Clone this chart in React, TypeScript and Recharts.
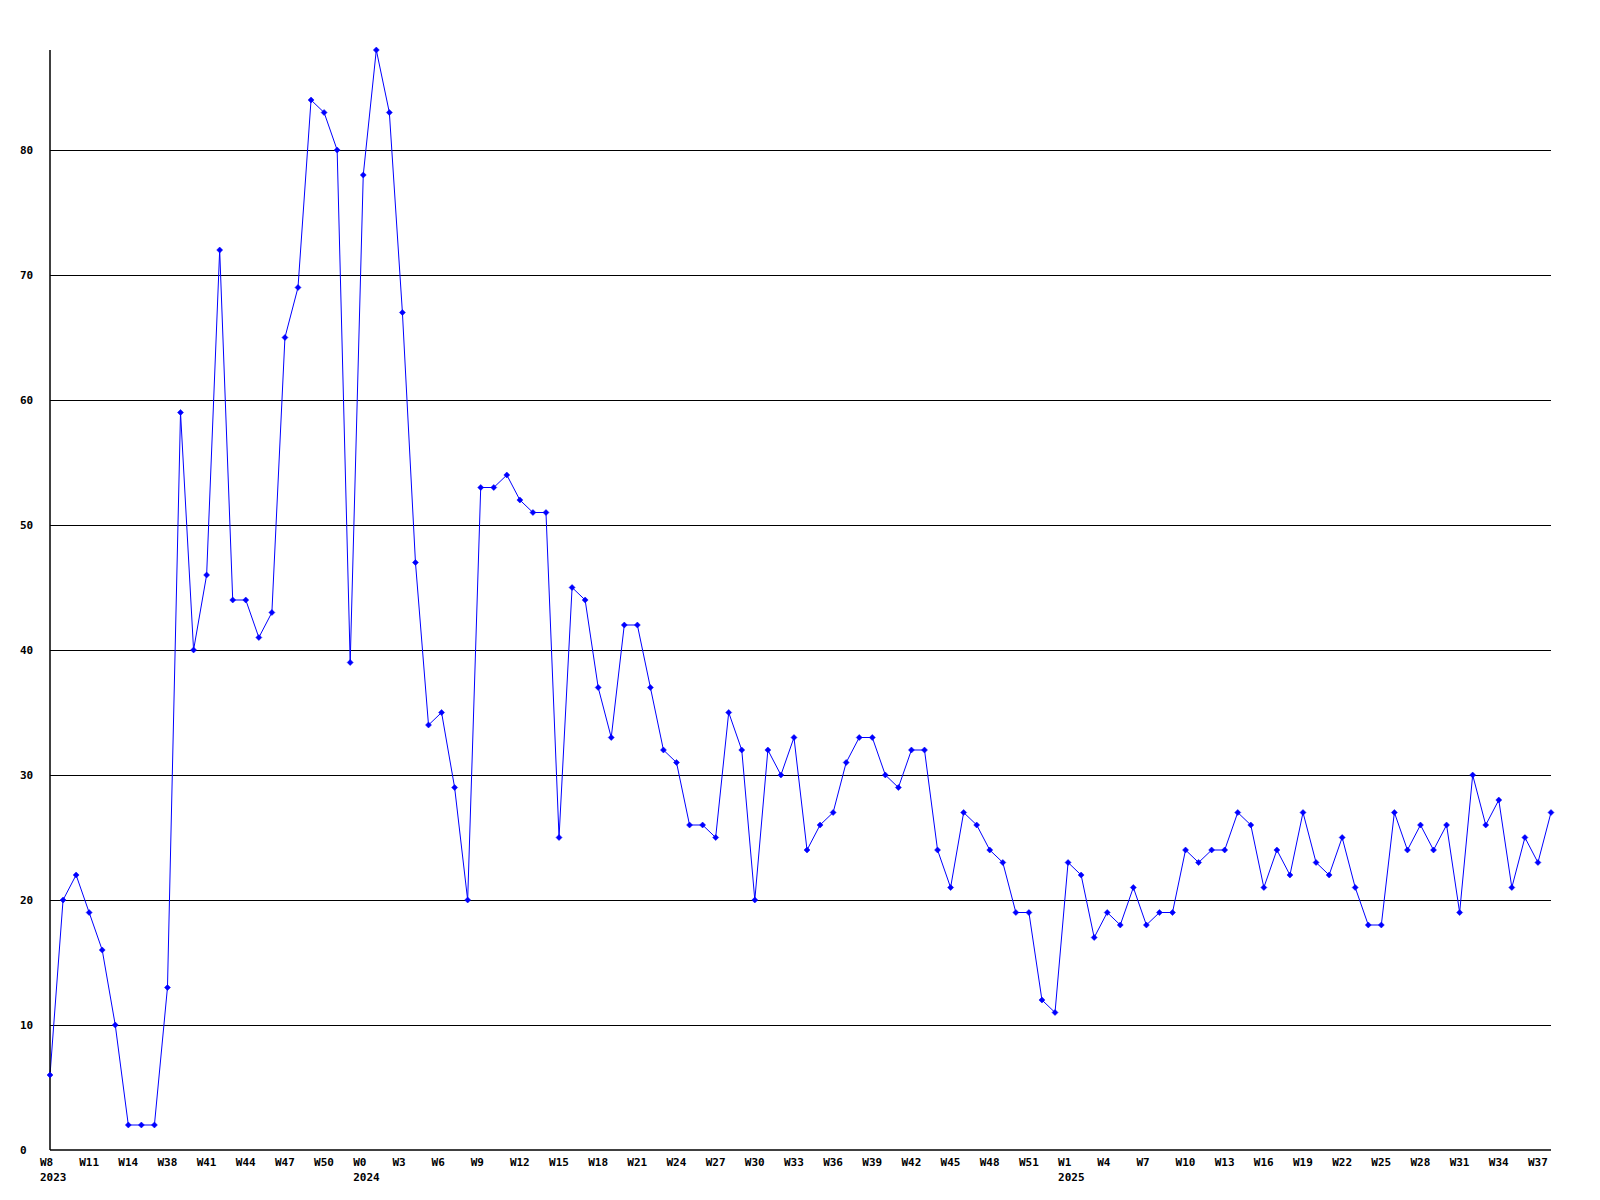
import React from 'react';
import { LineChart, Line, XAxis, YAxis, ReferenceLine } from 'recharts';

// week labels, in order, per year
const weeks2023 = ['W8', 'W9', 'W10', 'W11', 'W12', 'W13', 'W14', 'W15', 'W16',
  'W38', 'W39', 'W40', 'W41', 'W42', 'W43', 'W44', 'W45', 'W46', 'W47', 'W48', 'W49', 'W50', 'W51', 'W52'];
const weeks2024 = ['W0', 'W1', 'W2', 'W3', 'W4', 'W5', 'W6', 'W7', 'W8', 'W9', 'W10', 'W11', 'W12', 'W13',
  'W14', 'W15', 'W16', 'W17', 'W18', 'W19', 'W20', 'W21', 'W22', 'W23', 'W24', 'W25', 'W26', 'W27',
  'W28', 'W29', 'W30', 'W31', 'W32', 'W33', 'W34', 'W35', 'W36', 'W37', 'W38', 'W39', 'W40', 'W41',
  'W42', 'W43', 'W44', 'W45', 'W46', 'W47', 'W48', 'W49', 'W50', 'W51', 'W52'];
const weeks2025 = ['W0', 'W1', 'W2', 'W3', 'W4', 'W5', 'W6', 'W7', 'W8', 'W9', 'W10', 'W11', 'W12', 'W13',
  'W14', 'W15', 'W16', 'W17', 'W18', 'W19', 'W20', 'W21', 'W22', 'W23', 'W24', 'W25', 'W26', 'W27',
  'W28', 'W29', 'W30', 'W31', 'W32', 'W33', 'W34', 'W35', 'W36', 'W37', 'W38'];

const years = ['2023', '2024', '2025'];
// index of the first labelled tick in each year
const yearTickIdx = [0, 24, 78];

const values = [
  6, 20, 22, 19, 16, 10, 2, 2, 2, 13, 59, 40, 46, 72, 44, 44, 41, 43, 65, 69, 84, 83, 80, 39,
  78, 88, 83, 67, 47, 34, 35, 29, 20, 53, 53, 54, 52, 51, 51, 25, 45, 44, 37, 33, 42, 42, 37, 32,
  31, 26, 26, 25, 35, 32, 20, 32, 30, 33, 24, 26, 27, 31, 33, 33, 30, 29, 32, 32, 24, 21, 27, 26,
  24, 23, 19, 19, 12, 11, 23, 22, 17, 19, 18, 21, 18, 19, 19, 24, 23, 24, 24, 27, 26, 21, 24, 22,
  27, 23, 22, 25, 21, 18, 18, 27, 24, 26, 24, 26, 19, 30, 26, 28, 21, 25, 23, 27,
];

const yTicks = [0, 10, 20, 30, 40, 50, 60, 70, 80];

const labels = [...weeks2023, ...weeks2024, ...weeks2025];
const data = labels.map((week, i) => ({ key: i, week, value: values[i] }));

const FONT = '"DejaVu Sans Mono", monospace';

// labels start a little left of their point, like the original
const XTick = (props: any) => {
  const { x, y, payload } = props;
  const idx = payload.index;
  const yi = yearTickIdx.indexOf(idx);
  return (
    <g>
      <text x={x - 10} y={y + 4} textAnchor="start" dominantBaseline="central"
        fontFamily={FONT} fontWeight="bold" fontSize={11} fill="#000">
        {labels[idx]}
      </text>
      {yi >= 0 && (
        <text x={x - 10} y={y + 19} textAnchor="start" dominantBaseline="central"
          fontFamily={FONT} fontWeight="bold" fontSize={11} fill="#000">
          {years[yi]}
        </text>
      )}
    </g>
  );
};

const YTick = (props: any) => {
  const { y, payload } = props;
  return (
    <text x={20} y={y} textAnchor="start" dominantBaseline="central"
      fontFamily={FONT} fontWeight="bold" fontSize={11} fill="#000">
      {payload.value}
    </text>
  );
};

const Marker = (props: any) => {
  const { cx, cy } = props;
  if (cx == null || cy == null) return null;
  const r = 3;
  return (
    <polygon
      points={`${cx},${cy - r} ${cx + r},${cy} ${cx},${cy + r} ${cx - r},${cy}`}
      fill="#0000ff"
      stroke="#0000ff"
      strokeWidth={0.5}
    />
  );
};

export default function App() {
  return (
    <div style={{ position: 'absolute', left: 0, top: 0, width: 1600, height: 1200, background: '#fff' }}>
      <LineChart width={1600} height={1200} data={data}
        margin={{ top: 50, right: 49, left: 0, bottom: 0 }}>
        {yTicks.filter((t) => t > 0).map((t) => (
          <ReferenceLine key={t} y={t} stroke="#000" strokeWidth={1} shapeRendering="crispEdges" />
        ))}
        <XAxis dataKey="key" interval={2} tickLine={false} height={50}
          axisLine={{ stroke: '#000', strokeWidth: 1.5 }} tick={<XTick />} />
        <YAxis domain={[0, 88]} ticks={yTicks} width={50} tickLine={false}
          axisLine={{ stroke: '#000', strokeWidth: 1.5 }} tick={<YTick />} />
        <Line type="linear" dataKey="value" stroke="#0000ff" strokeWidth={1}
          dot={<Marker />} activeDot={false} isAnimationActive={false} />
      </LineChart>
    </div>
  );
}
